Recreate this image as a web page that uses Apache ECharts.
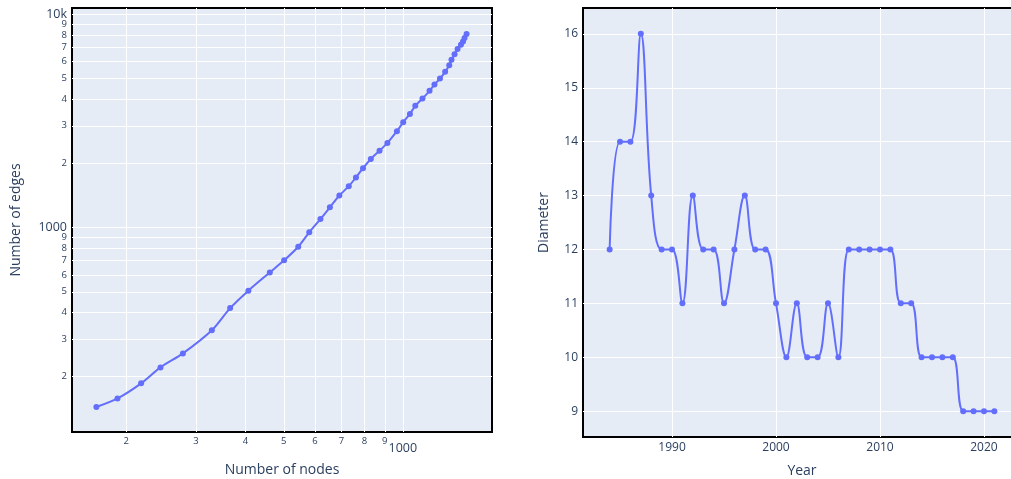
<!DOCTYPE html>
<html>
<head>
<meta charset="utf-8">
<script src="https://cdn.jsdelivr.net/npm/echarts@6/dist/echarts.min.js"></script>
<style>
  html, body { margin: 0; padding: 0; background: #fff; }
  #main { width: 1011px; height: 479px; }
</style>
</head>
<body>
<div id="main"></div>
<script>
// grafico izquierdo: nodos vs aristas (log-log)
var nodes = [168, 190, 218, 244, 278, 329, 366, 407, 461, 501, 544, 580, 619, 654, 691, 730, 761, 793,
  830, 873, 914, 966, 1002, 1042, 1075, 1121, 1168, 1202, 1241, 1279, 1310, 1327, 1351, 1375, 1402, 1419, 1432, 1449];
var edges = [144, 158, 186, 221, 257, 330, 419, 506, 616, 702, 813, 950, 1096, 1244, 1413, 1563, 1717, 1898,
  2097, 2291, 2493, 2829, 3118, 3411, 3720, 4024, 4374, 4683, 4995, 5370, 5762, 6113, 6490, 6865, 7193, 7454, 7732, 8072];

// grafico derecho: diametro por año
var years = [1984, 1985, 1986, 1987, 1988, 1989, 1990, 1991, 1992, 1993, 1994, 1995, 1996, 1997, 1998, 1999,
  2000, 2001, 2002, 2003, 2004, 2005, 2006, 2007, 2008, 2009, 2010, 2011, 2012, 2013, 2014, 2015, 2016,
  2017, 2018, 2019, 2020, 2021];
var diameter = [12, 14, 14, 16, 13, 12, 12, 11, 13, 12, 12, 11, 12, 13, 12, 12,
  11, 10, 11, 10, 10, 11, 10, 12, 12, 12, 12, 12, 11, 11, 10, 10, 10,
  10, 9, 9, 9, 9];

// etiquetas de los ejes
var nodeTicks = [200, 300, 400, 500, 600, 700, 800, 900, 1000];
var edgeTicks = [200, 300, 400, 500, 600, 700, 800, 900, 1000, 2000, 3000, 4000, 5000, 6000, 7000, 8000, 9000, 10000];
var edgeLabels = [200, 300, 400, 500, 600, 700, 800, 900, 1000, 2000, 3000, 4000, 5000, 6000, 7000, 8000, 9000];
var edgeTopLabel = [10000];
var yearTicks = [1990, 2000, 2010, 2020];
var diameterTicks = [9, 10, 11, 12, 13, 14, 15, 16];

var textColor = "#2a3f5f";
var lineColor = "#636EFA";

function logLabel(v) {
  var r = Math.round(v);
  if (r === 10000) return "{big|10k}";
  if (r === 1000) return "{big|1000}";
  var d = Math.round(r / Math.pow(10, Math.floor(Math.log10(r) + 1e-9)));
  return "{small|" + d + "}";
}

var richY = {
  big: { fontSize: 12.5, color: textColor, fontFamily: "Open Sans" },
  small: { fontSize: 9.5, color: textColor, fontFamily: "Open Sans" }
};
var richX = {
  big: { fontSize: 12.5, color: textColor, fontFamily: "Open Sans", padding: [6, 0, 0, 0] },
  small: { fontSize: 9.5, color: textColor, fontFamily: "Open Sans" }
};

var option = {
  animation: false,
  textStyle: { fontFamily: "Open Sans", color: textColor },
  grid: [
    { left: 72, top: 8, width: 420, height: 424, show: true, backgroundColor: "#E5ECF6",
      borderColor: "#000", borderWidth: 2, outerBoundsMode: "none" },
    { left: 583, top: 8, width: 438, height: 429, show: true, backgroundColor: "#E5ECF6",
      borderColor: "#000", borderWidth: 2, outerBoundsMode: "none" }
  ],
  xAxis: [
    {
      type: "log", gridIndex: 0, min: 145.8, max: 1680,
      name: "Number of nodes", nameLocation: "middle", nameGap: 31,
      nameTextStyle: { fontSize: 14, color: textColor, fontFamily: "Open Sans" },
      axisLine: { show: false },
      axisTick: { show: false, customValues: nodeTicks },
      axisLabel: { customValues: nodeTicks, margin: 4, formatter: logLabel, rich: richX,
        showMinLabel: true, showMaxLabel: true, hideOverlap: false },
      splitLine: { show: true, lineStyle: { color: "#fff", width: 1 } },
      minorSplitLine: { show: false }
    },
    {
      type: "value", gridIndex: 1, min: 1981.44, max: 2023.56,
      name: "Year", nameLocation: "middle", nameGap: 27,
      nameTextStyle: { fontSize: 14, color: textColor, fontFamily: "Open Sans" },
      axisLine: { show: false },
      axisTick: { show: false, customValues: yearTicks },
      axisLabel: { customValues: yearTicks, margin: 5, fontSize: 12, color: textColor, fontFamily: "Open Sans",
        formatter: function (v) { return String(Math.round(v)); } },
      splitLine: { show: true, lineStyle: { color: "#fff", width: 1 } }
    }
  ],
  yAxis: [
    {
      type: "log", gridIndex: 0, min: 110, max: 10700,
      name: "Number of edges", nameLocation: "middle", nameGap: 49,
      nameTextStyle: { fontSize: 14, color: textColor, fontFamily: "Open Sans" },
      axisLine: { show: false },
      axisTick: { show: false, customValues: edgeTicks },
      axisLabel: { customValues: edgeLabels, margin: 5, formatter: logLabel, rich: richY,
        showMinLabel: true, showMaxLabel: true, hideOverlap: false },
      splitLine: { show: true, lineStyle: { color: "#fff", width: 1 } },
      minorSplitLine: { show: false }
    },
    {
      type: "value", gridIndex: 1, min: 8.52, max: 16.48,
      name: "Diameter", nameLocation: "middle", nameGap: 32,
      nameTextStyle: { fontSize: 14, color: textColor, fontFamily: "Open Sans" },
      axisLine: { show: false },
      axisTick: { show: false, customValues: diameterTicks },
      axisLabel: { customValues: diameterTicks, margin: 5, fontSize: 12, color: textColor, fontFamily: "Open Sans" },
      splitLine: { show: true, lineStyle: { color: "#fff", width: 1 } }
    },
    {
      // solo la etiqueta "10k" arriba
      type: "log", gridIndex: 0, min: 110, max: 10700, position: "left",
      axisLine: { show: false },
      axisTick: { show: false, customValues: edgeTopLabel },
      axisLabel: { customValues: edgeTopLabel, margin: 5, formatter: logLabel, rich: richY },
      splitLine: { show: false },
      minorSplitLine: { show: false }
    }
  ],
  series: [
    {
      type: "line", xAxisIndex: 0, yAxisIndex: 0,
      data: nodes.map(function (n, i) { return [n, edges[i]]; }),
      smooth: 0.3, symbol: "circle", symbolSize: 6,
      lineStyle: { color: lineColor, width: 2 },
      itemStyle: { color: lineColor }
    },
    {
      type: "line", xAxisIndex: 1, yAxisIndex: 1,
      data: years.map(function (y, i) { return [y, diameter[i]]; }),
      smooth: 0.4, symbol: "circle", symbolSize: 6,
      lineStyle: { color: lineColor, width: 2 },
      itemStyle: { color: lineColor }
    }
  ]
};

var chart = echarts.init(document.getElementById("main"));
chart.setOption(option);
</script>
</body>
</html>
